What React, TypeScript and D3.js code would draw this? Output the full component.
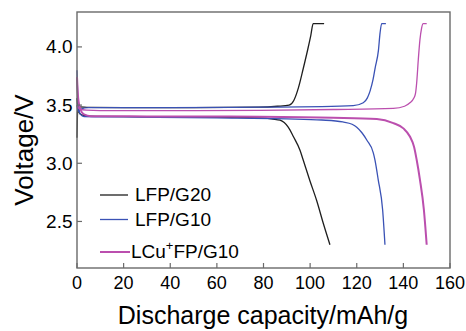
import React, { useRef, useEffect } from 'react';
import * as d3 from 'd3';

// [capacity mAh/g, voltage V]
const g20Charge: [number, number][] = [
  [0, 3.22], [0.3, 3.46], [1, 3.485], [5, 3.48], [20, 3.478], [50, 3.478], [78, 3.482],
  [86, 3.49], [91, 3.5], [93, 3.54], [95, 3.65], [97, 3.81], [99, 3.98], [100.3, 4.1],
  [101.3, 4.2], [106, 4.2],
];
const g20Discharge: [number, number][] = [
  [0, 3.56], [0.5, 3.45], [2, 3.415], [5, 3.405], [30, 3.4], [60, 3.395], [78.5, 3.39],
  [84, 3.38], [87.1, 3.37], [90.6, 3.31], [92.8, 3.23], [95.7, 3.11], [97, 3.03],
  [99.9, 2.85], [102.8, 2.68], [105.7, 2.48], [108.5, 2.3],
];
const g10Charge: [number, number][] = [
  [0, 3.5], [0.5, 3.445], [1.5, 3.465], [5, 3.478], [40, 3.478], [80, 3.482], [105, 3.486],
  [118.5, 3.495], [122.8, 3.52], [124.5, 3.56], [125.7, 3.62], [127, 3.72], [127.9, 3.82],
  [129.3, 3.97], [130, 4.12], [130.7, 4.2], [132.5, 4.2],
];
const g10Discharge: [number, number][] = [
  [0, 3.8], [0.5, 3.5], [1.5, 3.42], [3, 3.402], [20, 3.398], [60, 3.39], [90, 3.382],
  [105, 3.372], [114, 3.355], [118, 3.335], [120, 3.31], [122.3, 3.26], [124.3, 3.2],
  [127.1, 3.09], [127.8, 3.03], [129.2, 2.86], [131.1, 2.6], [132.1, 2.3],
];
const cuCharge: [number, number][] = [
  [0, 3.49], [1, 3.47], [4, 3.456], [10, 3.452], [50, 3.452], [78.5, 3.455], [110, 3.462],
  [135.7, 3.472], [140.5, 3.49], [142.8, 3.52], [144.5, 3.56], [145.2, 3.6], [145.7, 3.69],
  [146.4, 3.89], [147.1, 4.06], [147.8, 4.16], [148.5, 4.2], [150, 4.2],
];
const cuDischarge: [number, number][] = [
  [0, 3.74], [0.5, 3.56], [1.5, 3.46], [3, 3.42], [6, 3.405], [30, 3.403], [78.5, 3.4],
  [110, 3.392], [128.6, 3.38], [135.7, 3.345], [140, 3.3], [142.8, 3.23], [144.6, 3.14],
  [145.7, 3.03], [147.1, 2.86], [148.8, 2.6], [150, 2.3],
];

const seriesNames = ['LFP/G20', 'LFP/G10', 'LCu+FP/G10'];
const seriesColors = ['#1e1e1e', '#3a52b5', '#bb4fae'];
// [charge width, discharge width]
const seriesWidths = [[1.3, 1.3], [1.3, 1.3], [1.3, 2]];

const xTicks = [0, 20, 40, 60, 80, 100, 120, 140, 160];
const yTicks = [2.5, 3.0, 3.5, 4.0];

const App = () => {
  const ref = useRef<SVGSVGElement>(null);

  useEffect(() => {
    const svg = d3.select(ref.current);
    svg.selectAll('*').remove();

    const left = 77, right = 450, top = 12, bottom = 268;
    const font = 'Liberation Sans, Arial, sans-serif';

    const x = d3.scaleLinear().domain([0, 160]).range([left, right]);
    const y = d3.scaleLinear().domain([2.1, 4.3]).range([bottom, top]);

    const line = d3.line<[number, number]>()
      .x(d => x(d[0]))
      .y(d => y(d[1]))
      .curve(d3.curveMonotoneX);

    const curves = [
      [g20Charge, g20Discharge],
      [g10Charge, g10Discharge],
      [cuCharge, cuDischarge],
    ];

    curves.forEach((pair, i) => {
      pair.forEach((data, j) => {
        svg.append('path')
          .datum(data)
          .attr('fill', 'none')
          .attr('stroke', seriesColors[i])
          .attr('stroke-width', seriesWidths[i][j])
          .attr('d', line);
      });
    });

    // frame
    svg.append('rect')
      .attr('x', left).attr('y', top)
      .attr('width', right - left).attr('height', bottom - top)
      .attr('fill', 'none').attr('stroke', '#6a6a6a').attr('stroke-width', 1.4);

    // x ticks (inward)
    xTicks.forEach(t => {
      svg.append('line')
        .attr('x1', x(t)).attr('x2', x(t))
        .attr('y1', bottom).attr('y2', bottom - 5)
        .attr('stroke', '#6a6a6a').attr('stroke-width', 1.2);
      svg.append('text')
        .attr('x', x(t)).attr('y', bottom + 21)
        .attr('text-anchor', 'middle')
        .attr('font-family', font).attr('font-size', 18)
        .text(t);
    });

    // y ticks (inward)
    yTicks.forEach(t => {
      svg.append('line')
        .attr('x1', left).attr('x2', left + 5)
        .attr('y1', y(t)).attr('y2', y(t))
        .attr('stroke', '#6a6a6a').attr('stroke-width', 1.2);
      svg.append('text')
        .attr('x', left - 4.5).attr('y', y(t) + 6.5)
        .attr('text-anchor', 'end')
        .attr('font-family', font).attr('font-size', 19)
        .text(t.toFixed(1));
    });

    // axis titles
    svg.append('text')
      .attr('transform', 'translate(33,150) rotate(-90)')
      .attr('text-anchor', 'middle')
      .attr('font-family', font).attr('font-size', 26)
      .text('Voltage/V');

    svg.append('text')
      .attr('x', 263).attr('y', 324)
      .attr('text-anchor', 'middle')
      .attr('font-family', font).attr('font-size', 25)
      .text('Discharge capacity/mAh/g');

    // legend
    const legY = [195, 219.5, 252];
    seriesNames.forEach((name, i) => {
      const isCu = i === 2;
      svg.append('line')
        .attr('x1', 100).attr('x2', isCu ? 130 : 128)
        .attr('y1', legY[i]).attr('y2', legY[i])
        .attr('stroke', seriesColors[i]).attr('stroke-width', seriesWidths[i][1]);
      const txt = svg.append('text')
        .attr('x', isCu ? 131 : 135).attr('y', legY[i] + 6)
        .attr('font-family', font).attr('font-size', 19);
      if (isCu) {
        txt.append('tspan').text('LCu');
        txt.append('tspan').attr('dy', -8).attr('font-size', 13).text('+');
        txt.append('tspan').attr('dy', 8).text('FP/G10');
      } else {
        txt.text(name);
      }
    });
  }, []);

  return (
    <svg
      ref={ref}
      width={466}
      height={331}
      style={{ position: 'absolute', left: 0, top: 0, background: '#fff' }}
    />
  );
};

export default App;
